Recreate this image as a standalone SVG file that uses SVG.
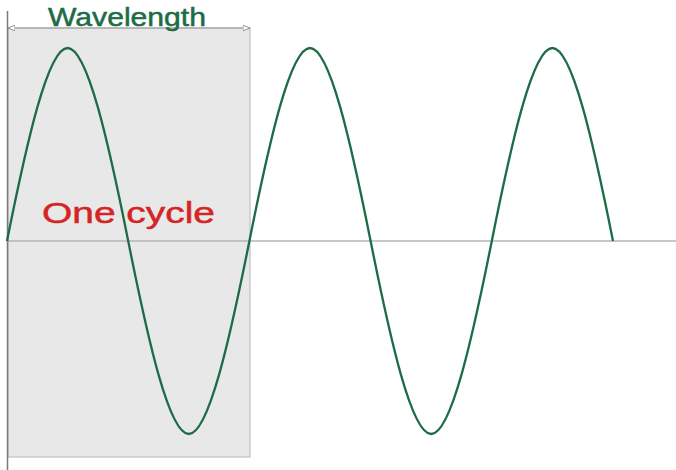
<svg xmlns="http://www.w3.org/2000/svg" width="676" height="470" viewBox="0 0 676 470">
<style>
.axis{stroke:#b4b4b4;stroke-width:1.5;fill:none}
.vaxis{stroke:#7a7a7a;stroke-width:1.5;fill:none}
.wave{stroke:#1d6b47;stroke-width:2.3;fill:none;stroke-linejoin:round}
.lbl{font-family:"Liberation Sans",Arial,sans-serif;stroke-width:0.5}
</style>
<defs>
<marker id="ah" viewBox="0 0 10 10" refX="10" refY="5" markerWidth="7" markerHeight="7" orient="auto-start-reverse" markerUnits="userSpaceOnUse">
<path d="M0,1 L10,5 L0,9 Z" fill="#fff" stroke="#8a8a8a" stroke-width="1.3"/>
</marker>
</defs>
<rect width="676" height="470" fill="#fff"/>
<g id="cycle-box">
<rect x="8" y="28" width="242" height="429" fill="#e8e8e8" stroke="#c4c4c4" stroke-width="1.3"/>
</g>
<g id="axes">
<line class="axis" x1="7" y1="241" x2="676" y2="241"/>
<line class="vaxis" x1="7.5" y1="11" x2="7.5" y2="470"/>
</g>
<g id="connectors">
<line x1="8" y1="28" x2="250" y2="28" stroke="#9a9a9a" stroke-width="1.2" marker-start="url(#ah)" marker-end="url(#ah)"/>
</g>
<g id="wave">
<path class="wave" d="M7,241
c19.77,-98.9 40.84,-193 60.6,-193 c19.76,0 40.83,94.1 60.6,193 c19.77,98.9 40.84,193 60.6,193 c19.76,0 40.83,-94.1 60.6,-193
c19.77,-98.9 40.84,-193 60.6,-193 c19.76,0 40.83,94.1 60.6,193 c19.77,98.9 40.84,193 60.6,193 c19.76,0 40.83,-94.1 60.6,-193
c19.77,-98.9 40.84,-193 60.6,-193 c19.76,0 40.83,94.1 60.6,193"/>
</g>
<g id="wavelength-label">
<text class="lbl" x="48" y="26" font-size="25.5" fill="#1d6b47" stroke="#1d6b47" textLength="158" lengthAdjust="spacingAndGlyphs">Wavelength</text>
</g>
<g id="one-cycle-label">
<text class="lbl" x="42" y="222.5" font-size="30" fill="#d42424" stroke="#d42424" textLength="173" lengthAdjust="spacingAndGlyphs">One cycle</text>
</g>
</svg>
